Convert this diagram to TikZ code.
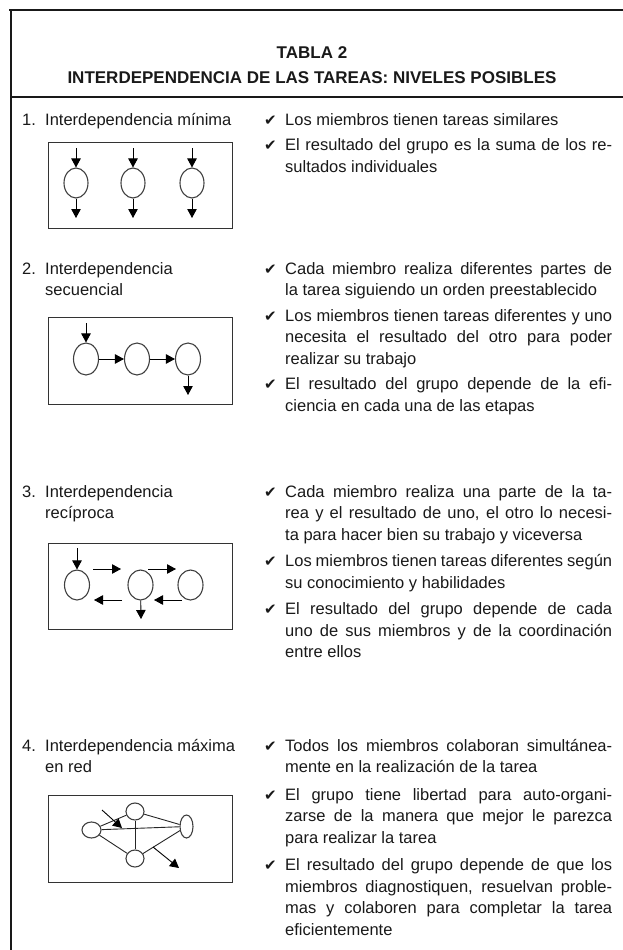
\documentclass[tikz,border=0pt]{standalone}
\usepackage{fontspec}
\setmainfont{Liberation Sans}
\newfontfamily\symfont{DejaVu Sans}
\usetikzlibrary{positioning}
\usetikzlibrary{arrows.meta,shapes.geometric}

\begin{document}
\begin{tikzpicture}[x=1pt,y=-1pt,>={Triangle[length=9pt,width=9.5pt]},
every node/.style={font=\fontsize{16.5}{21.5}\selectfont,text=black!90},
marco/.style={line width=2pt,draw=black!90},
caja/.style={draw=black!80,line width=0.9pt},
memb/.style={ellipse,draw=black!75,line width=1.1pt,inner sep=0pt,minimum width=24pt,minimum height=30pt},
red/.style={ellipse,draw=black!75,line width=1.1pt,inner sep=0pt,minimum width=18pt,minimum height=17pt},
flecha/.style={->,line width=0.9pt},
enlace/.style={line width=0.9pt,draw=black!85},
titulo/.style={font=\fontsize{17}{24}\selectfont\bfseries,anchor=base,inner sep=0pt},
nivel/.style={anchor=base west,inner sep=0pt},
punto/.style={anchor=base west,inner sep=0pt,font=\symfont\fontsize{15}{15}\selectfont},
texto/.style={anchor=base west,inner sep=0pt,text width=327pt,align=justify}]
\useasboundingbox (0,0) rectangle (623,950);

\draw[marco] (9,10) -- (623,10);
\draw[marco] (11,10) -- (11,950);
\draw[marco] (11,97) -- (623,97);
\node[titulo] (tab) at (312,59) {TABLA 2};
\node[titulo] (tit) at (312,84) {INTERDEPENDENCIA DE LAS TAREAS: NIVELES POSIBLES};

% 1
\node[nivel] (n1) at (22,125) {1.};
\node[nivel] (l1) at (45,125) {Interdependencia mínima};
\node[punto] (k1a) at (264,125) {✔};
\node[texto] (b1a) at (285,125) {Los miembros tienen tareas similares};
\node[punto] (k1b) at (264,150.5) {✔};
\node[texto] (b1b) at (285,150.5) {El resultado del grupo es la suma de los re-\linebreak sultados individuales};
\draw[caja] (48,142) rectangle (232,228);
\foreach \i/\x in {1/76,2/133,3/192}{
  \node[memb] (m1\i) at (\x,183) {};
  \coordinate (e1\i) at (\x,148);
  \coordinate (s1\i) at (\x,218);
  \draw[flecha] (e1\i) -- (m1\i);
  \draw[flecha] (m1\i) -- (s1\i);
}

% 2
\node[nivel] (n2) at (22,274) {2.};
\node[nivel] (l2) at (45,274) {Interdependencia};
\node[nivel] (l2b) at (45,295.5) {secuencial};
\node[punto] (k2a) at (264,274) {✔};
\node[texto] (b2a) at (285,274) {Cada miembro realiza diferentes partes de\linebreak la tarea siguiendo un orden preestablecido};
\node[punto] (k2b) at (264,321) {✔};
\node[texto] (b2b) at (285,321) {Los miembros tienen tareas diferentes y uno\linebreak necesita el resultado del otro para poder\linebreak realizar su trabajo};
\node[punto] (k2c) at (264,389.5) {✔};
\node[texto] (b2c) at (285,389.5) {El resultado del grupo depende de la efi-\linebreak ciencia en cada una de las etapas};
\draw[caja] (48,317) rectangle (232,404);
\node[memb,minimum height=32pt,minimum width=25pt] (m21) at (86,359) {};
\node[memb,minimum height=32pt,minimum width=25pt] (m22) at (137,359) {};
\node[memb,minimum height=32pt,minimum width=25pt] (m23) at (188,359) {};
\coordinate (e2) at (86,323);
\coordinate (s2) at (188,395);
\draw[flecha] (e2) -- (m21);
\draw[flecha] (m21) -- (m22);
\draw[flecha] (m22) -- (m23);
\draw[flecha] (m23) -- (s2);

% 3
\node[nivel] (n3) at (22,497) {3.};
\node[nivel] (l3) at (45,497) {Interdependencia};
\node[nivel] (l3b) at (45,518.5) {recíproca};
\node[punto] (k3a) at (264,497) {✔};
\node[texto] (b3a) at (285,497) {Cada miembro realiza una parte de la ta-\linebreak rea y el resultado de uno, el otro lo necesi-\linebreak ta para hacer bien su trabajo y viceversa};
\node[punto] (k3b) at (264,566.5) {✔};
\node[texto] (b3b) at (285,566.5) {Los miembros tienen tareas diferentes según\linebreak su conocimiento y habilidades};
\node[punto] (k3c) at (264,614.5) {✔};
\node[texto] (b3c) at (285,614.5) {El resultado del grupo depende de cada\linebreak uno de sus miembros y de la coordinación\linebreak entre ellos};
\draw[caja] (48,543) rectangle (232,629);
\node[memb,minimum width=25pt] (m31) at (77,585) {};
\node[memb,minimum width=25pt] (m32) at (140.5,585) {};
\node[memb,minimum width=25pt] (m33) at (190.5,585) {};
\coordinate (e3) at (77,548);
\coordinate (s3) at (141,619);
\coordinate (r1) at (93,569);
\coordinate (r2) at (121,569);
\coordinate (r3) at (148,569);
\coordinate (r4) at (176,569);
\coordinate (v1) at (122,600);
\coordinate (v2) at (94,600);
\coordinate (v3) at (182,600);
\coordinate (v4) at (154,600);
\draw[flecha] (e3) -- (m31);
\draw[flecha] (m32) -- (s3);
\draw[flecha] (r1) -- (r2);
\draw[flecha] (r3) -- (r4);
\draw[flecha] (v1) -- (v2);
\draw[flecha] (v3) -- (v4);

% 4
\node[nivel] (n4) at (22,751) {4.};
\node[nivel] (l4) at (45,751) {Interdependencia máxima};
\node[nivel] (l4b) at (45,772.5) {en red};
\node[punto] (k4a) at (264,751) {✔};
\node[texto] (b4a) at (285,751) {Todos los miembros colaboran simultánea-\linebreak mente en la realización de la tarea};
\node[punto] (k4b) at (264,800) {✔};
\node[texto] (b4b) at (285,800) {El grupo tiene libertad para auto-organi-\linebreak zarse de la manera que mejor le parezca\linebreak para realizar la tarea};
\node[punto] (k4c) at (264,870.5) {✔};
\node[texto] (b4c) at (285,870.5) {El resultado del grupo depende de que los\linebreak miembros diagnostiquen, resuelvan proble-\linebreak mas y colaboren para completar la tarea\linebreak eficientemente};
\draw[caja] (48,795) rectangle (232,882);
\node[red,minimum width=19pt,minimum height=16pt] (pA) at (91.5,830) {};
\node[red] (pB) at (135,811.5) {};
\node[red,minimum width=13pt,minimum height=23pt] (pC) at (186.5,826.5) {};
\node[red] (pD) at (135,858.5) {};
\path[enlace] (pA) edge (pB) (pA) edge (pC) (pA) edge (pD)
  (pB) edge (pC) (pB) edge (pD) (pD) edge (pC);
\coordinate (e4) at (102,810);
\coordinate (t4) at (122,828);
\coordinate (e5) at (153,847);
\coordinate (t5) at (179,868);
\draw[flecha] (e4) -- (t4);
\draw[flecha] (e5) -- (t5);
\end{tikzpicture}
\end{document}
